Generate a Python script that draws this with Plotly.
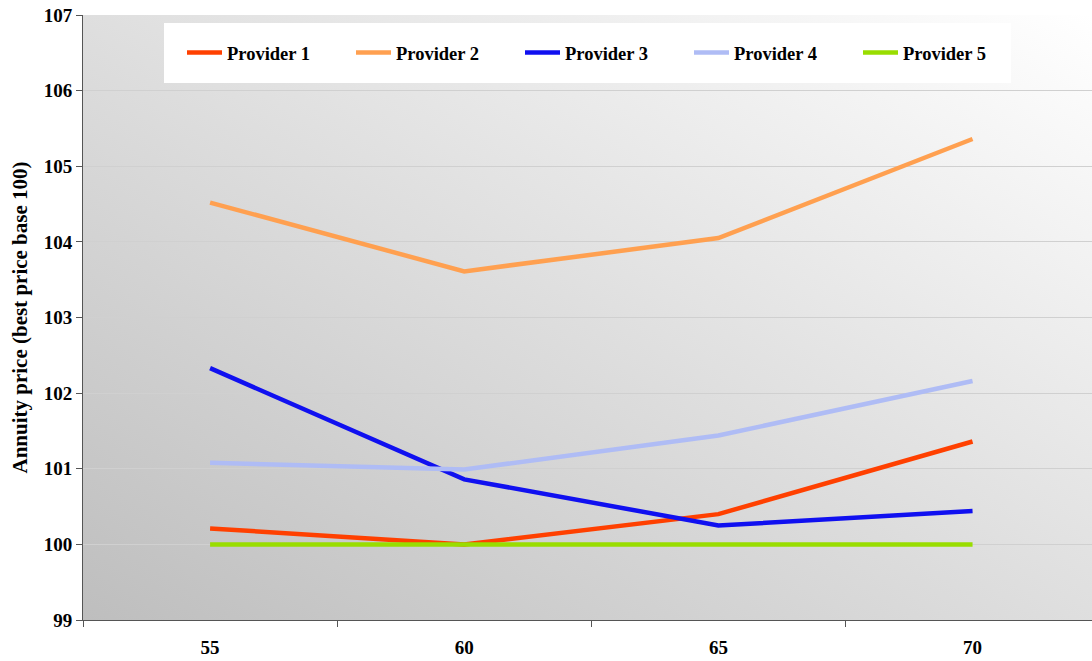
import plotly.graph_objects as go
import base64

ages = ["55", "60", "65", "70"]
provider_names = ["Provider 1", "Provider 2", "Provider 3", "Provider 4", "Provider 5"]
provider_1 = [100.21, 100.00, 100.40, 101.36]
provider_2 = [104.52, 103.61, 104.05, 105.36]
provider_3 = [102.33, 100.86, 100.25, 100.44]
provider_4 = [101.08, 100.99, 101.44, 102.16]
provider_5 = [100.00, 100.00, 100.00, 100.00]
series = [provider_1, provider_2, provider_3, provider_4, provider_5]
colors = ["#FF4000", "#FFA050", "#1010F0", "#AFBCF5", "#99DD00"]
y_ticks = [99, 100, 101, 102, 103, 104, 105, 106, 107]

font_family = "Liberation Serif"

fig = go.Figure()
for name, vals, col in zip(provider_names, series, colors):
    fig.add_trace(go.Scatter(x=ages, y=vals, mode="lines", name=name,
                             line=dict(color=col, width=4.5)))

svg = ('<svg xmlns="http://www.w3.org/2000/svg" width="100" height="100" preserveAspectRatio="none" viewBox="0 0 100 100">'
       '<defs><linearGradient id="g" x1="0" y1="1" x2="1" y2="0">'
       '<stop offset="0" stop-color="#BEBEBE"/><stop offset="1" stop-color="#FFFFFF"/>'
       '</linearGradient></defs><rect width="100" height="100" fill="url(#g)"/></svg>')
src = "data:image/svg+xml;base64," + base64.b64encode(svg.encode()).decode()

fig.update_layout(
    width=1092, height=661,
    margin=dict(l=83, r=0, t=15, b=41),
    paper_bgcolor="white",
    plot_bgcolor="rgba(0,0,0,0)",
    font=dict(family=font_family, color="black", size=18, weight="bold"),
    images=[dict(source=src, xref="paper", yref="paper", x=0, y=1, sizex=1, sizey=1,
                 sizing="stretch", layer="below")],
    shapes=[dict(type="rect", xref="paper", yref="paper",
                 x0=(164 - 83) / 1009, x1=(1011 - 83) / 1009,
                 y0=1 - (83 - 15) / 605, y1=1 - (23 - 15) / 605,
                 fillcolor="white", line=dict(width=0), layer="above")],
    legend=dict(orientation="h", x=(182 - 83) / 1009, y=1 - (53 - 15) / 605,
                xanchor="left", yanchor="middle",
                bgcolor="rgba(0,0,0,0)", entrywidth=119, itemwidth=35,
                font=dict(family=font_family, size=18.5, weight="bold")),
    showlegend=True,
    xaxis=dict(type="category", range=[-0.5, 3.47], tickson="boundaries",
               ticks="outside", ticklen=6, tickcolor="#555555",
               showline=True, linecolor="#555555", linewidth=1,
               showgrid=False, tickfont=dict(size=19), ticklabelstandoff=10,
               fixedrange=True),
    yaxis=dict(range=[99, 107], tickvals=y_ticks, ticks="outside", ticklen=6,
               tickcolor="#555555", showline=True, linecolor="#555555", linewidth=1,
               showgrid=True, gridcolor="#D0D0D0", gridwidth=1, zeroline=False,
               tickfont=dict(size=19),
               title=dict(text="Annuity price (best price base 100)",
                          font=dict(size=21), standoff=10)),
)

fig.write_html("out.html", config={"displayModeBar": False},
               post_script="document.body.style.margin='0';document.body.style.overflow='hidden';")
